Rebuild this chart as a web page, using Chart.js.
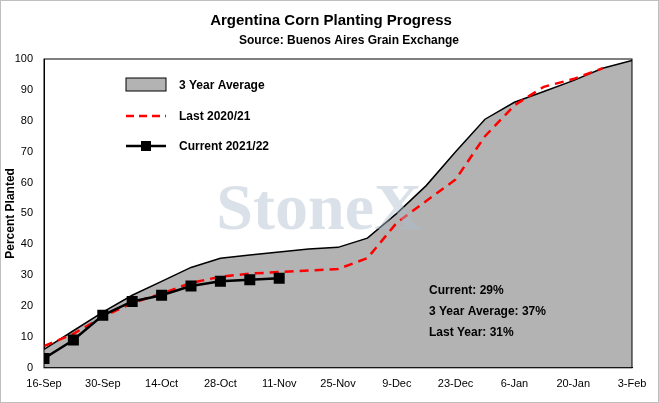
<!DOCTYPE html><html><head><script src="https://cdn.jsdelivr.net/npm/chart.js@4"></script>
<style>body{margin:0;background:#fff}#w{width:657px;height:401px;border:1px solid #bfbfbf;position:relative}</style></head><body><div id="w"><canvas id="c"></canvas></div><script>
const tickLabels=['16-Sep','30-Sep','14-Oct','28-Oct','11-Nov','25-Nov','9-Dec','23-Dec','6-Jan','20-Jan','3-Feb'];
const avgDays=[0,7,14,21,28,35,42,49,56,63,70,77,84,91,98,105,112,119,126,133,140];
const avg3yr=[6,12,18,23.5,28,32.5,35.5,36.5,37.5,38.5,39,42,50,59,70,80.5,86,89.5,93,97,99.5];
const last=[7,11,16.5,21,24,27.5,29.5,30.5,31,31.5,32,35.5,47,54,61,75,85,91,93.5,97];
const current=[3,9,17,21.5,23.5,26.5,28,28.5,29];
const pts=(a)=>a.map((v,i)=>({x:avgDays[i],y:v}));
const F='"Liberation Sans", Arial, sans-serif';
const deco={id:'deco',
afterDatasetsDraw(ch){const c=ch.ctx,a=ch.chartArea;c.save();c.font='bold 66px "Liberation Serif", serif';c.fillStyle='rgba(175,188,205,0.45)';c.textAlign='center';c.fillText('StoneX',318,228);c.restore();},
afterDraw(ch){const c=ch.ctx,a=ch.chartArea;c.save();
c.strokeStyle='#000';c.lineWidth=1;c.strokeRect(a.left,a.top,a.right-a.left,a.bottom-a.top);
c.fillStyle='#000';c.textAlign='center';c.font='bold 15px '+F;c.fillText('Argentina Corn Planting Progress',330,24);
c.font='bold 12px '+F;c.fillText('Source: Buenos Aires Grain Exchange',348,43);
c.textAlign='left';c.font='bold 12px '+F;
c.fillStyle='#b3b3b3';c.fillRect(125,77,40,13);c.strokeStyle='#000';c.strokeRect(125,77,40,13);
c.fillStyle='#000';c.fillText('3 Year Average',178,88);
c.strokeStyle='#ff0000';c.lineWidth=2.5;c.setLineDash([8,5]);c.beginPath();c.moveTo(125,115);c.lineTo(165,115);c.stroke();c.setLineDash([]);
c.fillText('Last 2020/21',178,119);
c.strokeStyle='#000';c.lineWidth=2.5;c.beginPath();c.moveTo(125,145);c.lineTo(165,145);c.stroke();c.fillRect(140,140,10,10);
c.fillText('Current 2021/22',178,149);
c.fillText('Current: 29%',428,293);c.fillText('3 Year Average: 37%',428,314);c.fillText('Last Year: 31%',428,335);
c.restore();}};
new Chart(document.getElementById('c'),{type:'line',data:{datasets:[
{data:pts(current),borderColor:'#000',borderWidth:2.5,pointStyle:'rect',pointRadius:6,pointBackgroundColor:'#000',pointBorderColor:'#000',order:0},
{data:pts(last),borderColor:'#ff0000',borderWidth:2.5,borderDash:[9,6],pointRadius:0,order:1},
{data:pts(avg3yr),borderColor:'#000',borderWidth:1.5,backgroundColor:'#b3b3b3',fill:'origin',pointRadius:0,order:2}]},
options:{responsive:true,maintainAspectRatio:false,animation:false,
layout:{padding:{top:58,right:26,left:2,bottom:9}},
plugins:{legend:{display:false},tooltip:{enabled:false}},
scales:{x:{type:'linear',min:0,max:140,grid:{display:false},border:{color:'#000'},
ticks:{stepSize:14,color:'#000',font:{family:F,size:11},maxRotation:0,autoSkip:false,padding:2,callback:(v)=>tickLabels[v/14]}},
y:{min:0,max:100,grid:{display:false},border:{color:'#000'},afterFit:(s)=>{s.width=41;},title:{display:true,text:'Percent Planted',color:'#000',padding:0,font:{family:F,size:12,weight:'bold'}},
ticks:{stepSize:10,color:'#000',padding:3,font:{family:F,size:11}}}}},plugins:[deco]});
</script></body></html>
